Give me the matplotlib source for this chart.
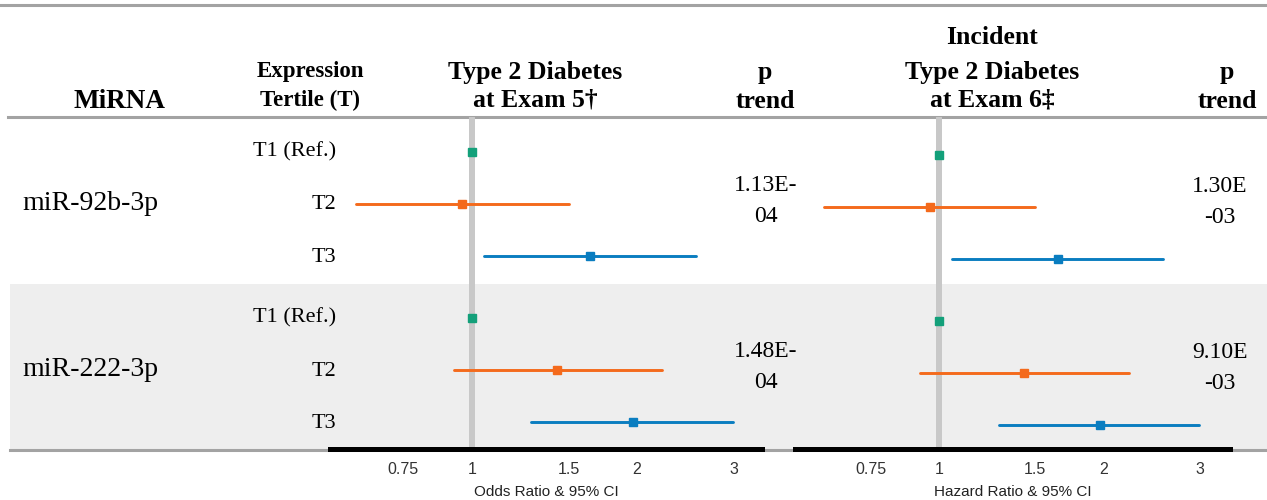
"""Forest plot table: miRNA expression tertiles vs type 2 diabetes."""
import matplotlib

matplotlib.use("Agg")
import matplotlib.pyplot as plt  # noqa: E402
from matplotlib.patches import Rectangle  # noqa: E402
from matplotlib.lines import Line2D  # noqa: E402

W, H = 1267, 500

MIRNAS = ["miR-92b-3p", "miR-222-3p"]
TERTILES = ["T1 (Ref.)", "T2", "T3"]
TERTILE_COLORS = ["#13A07A", "#F46A1C", "#0A7DC0"]

# Type 2 diabetes at exam 5: odds ratios (est, lo, hi), per miRNA x tertile
OR_EST = [[1.00, 0.96, 1.64], [1.00, 1.43, 1.97]]
OR_LO = [[1.00, 0.614, 1.05], [1.00, 0.927, 1.28]]
OR_HI = [[1.00, 1.50, 2.56], [1.00, 2.22, 2.99]]
P_TREND_5 = ["1.13E-\n04", "1.48E-\n04"]

# Incident type 2 diabetes at exam 6: hazard ratios
HR_EST = [[1.00, 0.963, 1.65], [1.00, 1.43, 1.97]]
HR_LO = [[1.00, 0.617, 1.056], [1.00, 0.923, 1.29]]
HR_HI = [[1.00, 1.50, 2.56], [1.00, 2.22, 2.99]]
P_TREND_6 = ["1.30E\n-03", "9.10E\n-03"]

XTICKS = [0.75, 1, 1.5, 2, 3]
XTICK_LABELS = ["0.75", "1", "1.5", "2", "3"]

SERIF = ["Liberation Serif", "DejaVu Serif"]
SANS = ["Liberation Sans", "DejaVu Sans"]

GROUP_STEP = 3.19  # rows between miRNA blocks
TOP_Y, BOT_Y = 117, 449  # axes extent in pixels
ROW_PX = 52


def fx(x):
    return x / W


def fy(y):
    return 1 - y / H


def forest(fig, left_px, right_px, xlim, est, lo, hi, xlabel, y0_px):
    ax = fig.add_axes([fx(left_px), fy(BOT_Y), (right_px - left_px) / W,
                       (BOT_Y - TOP_Y) / H])
    ax.set_facecolor("none")
    ax.set_xscale("log")
    ax.set_xlim(*xlim)
    top = -(y0_px - TOP_Y) / ROW_PX
    ax.set_ylim(top + (BOT_Y - TOP_Y) / ROW_PX, top)
    ax.axvline(1, color="#C8C8C8", lw=4.3, zorder=1)
    for g in range(len(MIRNAS)):
        for t in range(len(TERTILES)):
            y = g * GROUP_STEP + t
            c = TERTILE_COLORS[t]
            ax.plot([lo[g][t], hi[g][t]], [y, y], color=c, lw=2.1,
                    solid_capstyle="round", zorder=2)
            ax.plot(est[g][t], y, marker="s", ms=5.5, color=c, zorder=3)
    for s in ["top", "left", "right"]:
        ax.spines[s].set_visible(False)
    ax.spines["bottom"].set_linewidth(3.6)
    ax.spines["bottom"].set_color("black")
    ax.set_yticks([])
    ax.set_xticks(XTICKS, XTICK_LABELS)
    ax.xaxis.set_minor_locator(matplotlib.ticker.NullLocator())
    ax.tick_params(axis="x", length=0, pad=9, labelsize=11.5,
                   labelcolor="#333333")
    for lab in ax.get_xticklabels():
        lab.set_family(SANS)
    ax.set_xlabel(xlabel, fontsize=11, family=SANS, color="#222222",
                  labelpad=6)
    return ax


def main():
    fig = plt.figure(figsize=(W / 100, H / 100), dpi=100)
    fig.patch.set_facecolor("white")

    # shaded second block + table rules
    fig.add_artist(Rectangle((fx(10), fy(449)), fx(W - 10), (449 - 284) / H,
                             transform=fig.transFigure, facecolor="#EEEEEE",
                             edgecolor="none", zorder=-2))
    for y, x0 in [(5, 0), (117, 8), (450, 10)]:
        fig.add_artist(Line2D([fx(x0), 1], [fy(y), fy(y)],
                              transform=fig.transFigure, color="#A3A3A3",
                              lw=2.2, zorder=-1))

    forest(fig, 330, 762, (0.551, 3.38), OR_EST, OR_LO, OR_HI,
           "Odds Ratio & 95% CI", 152)
    forest(fig, 795, 1230, (0.546, 3.40), HR_EST, HR_LO, HR_HI,
           "Hazard Ratio & 95% CI", 155)

    hdr = dict(family=SERIF, weight="bold", ha="center", va="center",
               fontsize=18.5)
    fig.text(fx(120), fy(102), "MiRNA", **{**hdr, "fontsize": 19.5})
    fig.text(fx(310), fy(72), "Expression", **{**hdr, "fontsize": 16.5})
    fig.text(fx(310), fy(100), "Tertile (T)", **{**hdr, "fontsize": 16.5})
    fig.text(fx(535), fy(72), "Type 2 Diabetes", **hdr)
    fig.text(fx(535), fy(100), "at Exam 5\u2020", **hdr)
    fig.text(fx(992), fy(37), "Incident", **hdr)
    fig.text(fx(992), fy(72), "Type 2 Diabetes", **hdr)
    fig.text(fx(992), fy(100), "at Exam 6\u2021", **hdr)
    for x in (765, 1227):
        fig.text(fx(x), fy(72), "p", **hdr)
        fig.text(fx(x), fy(101), "trend", **hdr)

    body = dict(family=SERIF, va="center")
    for g, name in enumerate(MIRNAS):
        base = 152 + g * 166
        fig.text(fx(22), fy(base + 52), name, fontsize=20, ha="left", **body)
        for t, lab in enumerate(TERTILES):
            fig.text(fx(336), fy(base + t * 53), lab, fontsize=16, ha="right",
                     **body)
        fig.text(fx(766), fy(base + 49), P_TREND_5[g], fontsize=17,
                 ha="center", linespacing=1.6, **body)
        fig.text(fx(1220), fy(base + 50), P_TREND_6[g], fontsize=17,
                 ha="center", linespacing=1.6, **body)

    fig.savefig("out.png", dpi=100)
    plt.close(fig)


if __name__ == "__main__":
    main()
